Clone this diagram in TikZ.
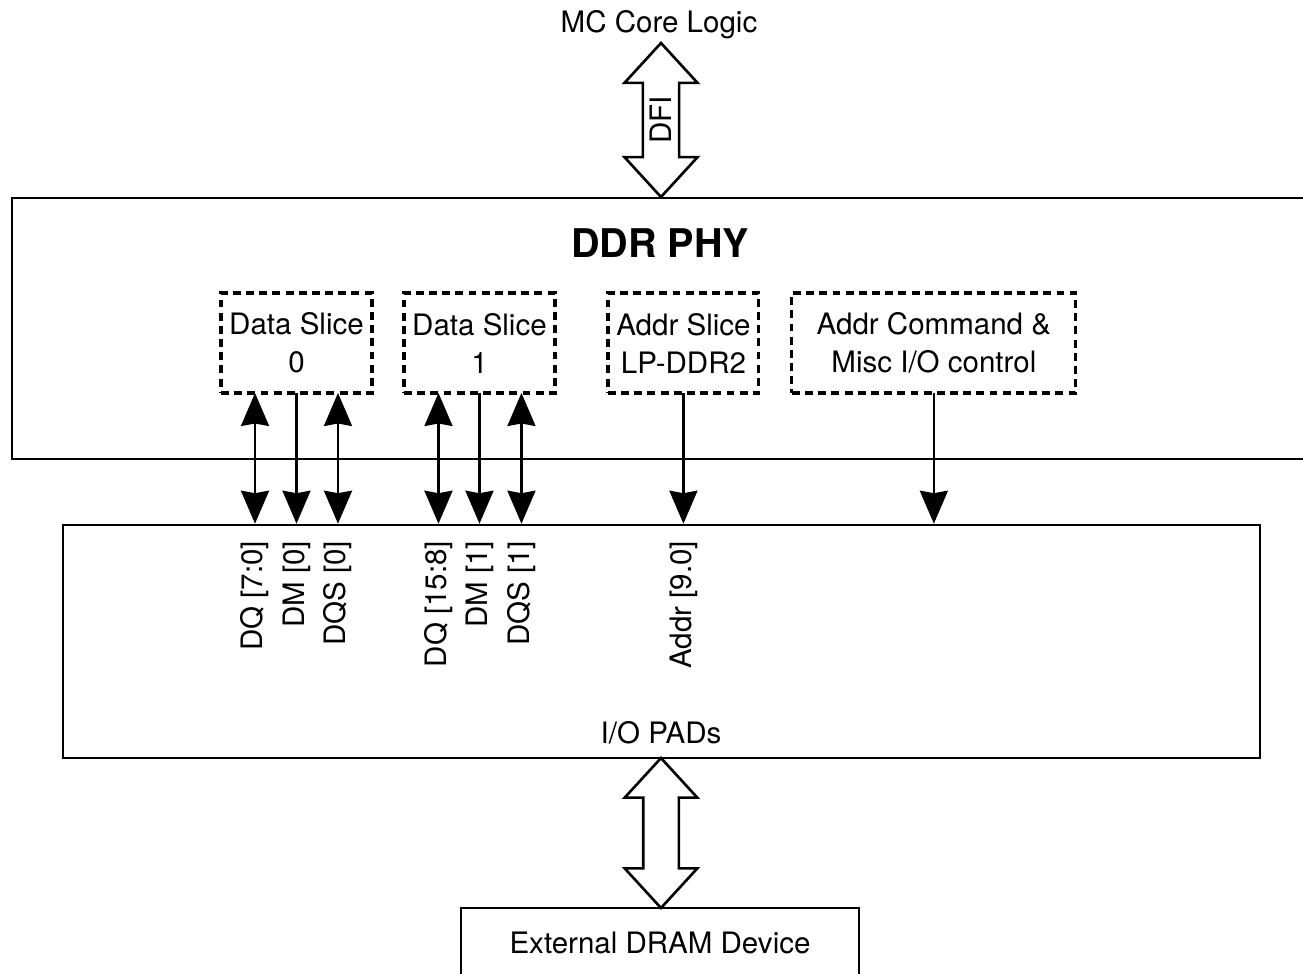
\documentclass[tikz,border=0pt]{standalone}
\usepackage{fontspec}
\setmainfont{TeX Gyre Heros}
\usepackage{tikz}
\usetikzlibrary{positioning,arrows.meta,shapes.arrows,calc}
\tikzset{
  txt/.style={font=\fontsize{16.8}{21.6}\selectfont},
  box/.style={draw, line width=1.5pt, align=center, txt},
  slicebox/.style={box, line width=1.8pt, dash pattern=on 4.5pt off 3pt, minimum height=2cm,
                   minimum width=3.02cm, inner xsep=2pt, outer sep=0pt},
  fatarrow/.style={draw, line width=1.5pt, fill=white, double arrow, double arrow tip angle=85,
                   double arrow head extend=0.37cm, inner xsep=0pt, rotate=90, txt},
  sig/.style={txt, rotate=90, anchor=east, inner xsep=0.32cm, inner ysep=0pt},
  arrow/.style={-{Stealth[length=0.66cm, width=0.56cm, inset=0.05cm]}, line width=1.4pt},
  dblarrow/.style={{Stealth[length=0.66cm, width=0.56cm, inset=0.05cm]}-{Stealth[length=0.66cm, width=0.56cm, inset=0.05cm]}, line width=1.4pt},
}
\begin{document}
\begin{tikzpicture}[x=0.02cm, y=-0.02cm]
  \useasboundingbox (0,0) rectangle (1303,974);

  \node[txt] (core) at (659,25) {MC Core Logic};
  \node[box, minimum width=26.36cm, minimum height=5.22cm] (phy) at (671,328.5) {};
  \node[fatarrow, minimum height=3.08cm, inner ysep=0.12cm] (dfi) at (661,120) {DFI};
  \node[font=\fontsize{22.5}{26}\selectfont\bfseries] (title) at (660,243) {DDR PHY};

  \node[slicebox] (ds0) at (296.5,343) {Data Slice\\0};
  \node[slicebox, right=0.64cm of ds0] (ds1) {Data Slice\\1};
  \node[slicebox, right=1.06cm of ds1] (as) {Addr Slice\\LP-DDR2};
  \node[slicebox, right=0.66cm of as, minimum width=5.68cm] (ac) {Addr Command \&\\Misc I/O control};

  \node[box, minimum width=23.94cm, minimum height=4.66cm] (pads) at (661.5,641.5) {};
  \node[txt] (padlbl) at (661,733) {I/O PADs};
  \node[fatarrow, minimum height=3cm, inner ysep=0.33cm] (ext) at (661,833) {};
  \node[box, minimum width=7.96cm, minimum height=1.4cm] (dram) at (660,943) {External DRAM Device};

  \draw[dblarrow] ($(ds0.south)+(-0.83cm,0)$) -- ($(ds0.south |- pads.north)+(-0.83cm,0)$) node[sig] {DQ [7:0]};
  \draw[arrow] (ds0.south) -- (ds0.south |- pads.north) node[sig] {DM [0]};
  \draw[dblarrow] ($(ds0.south)+(0.83cm,0)$) -- ($(ds0.south |- pads.north)+(0.83cm,0)$) node[sig] {DQS [0]};
  \draw[dblarrow] ($(ds1.south)+(-0.82cm,0)$) -- ($(ds1.south |- pads.north)+(-0.82cm,0)$) node[sig] {DQ [15:8]};
  \draw[arrow] (ds1.south) -- (ds1.south |- pads.north) node[sig] {DM [1]};
  \draw[dblarrow] ($(ds1.south)+(0.84cm,0)$) -- ($(ds1.south |- pads.north)+(0.84cm,0)$) node[sig] {DQS [1]};
  \draw[arrow] (as.south) -- (as.south |- pads.north) node[sig] {Addr [9.0]};
  \draw[arrow] (ac.south) -- (ac.south |- pads.north);
\end{tikzpicture}
\end{document}
